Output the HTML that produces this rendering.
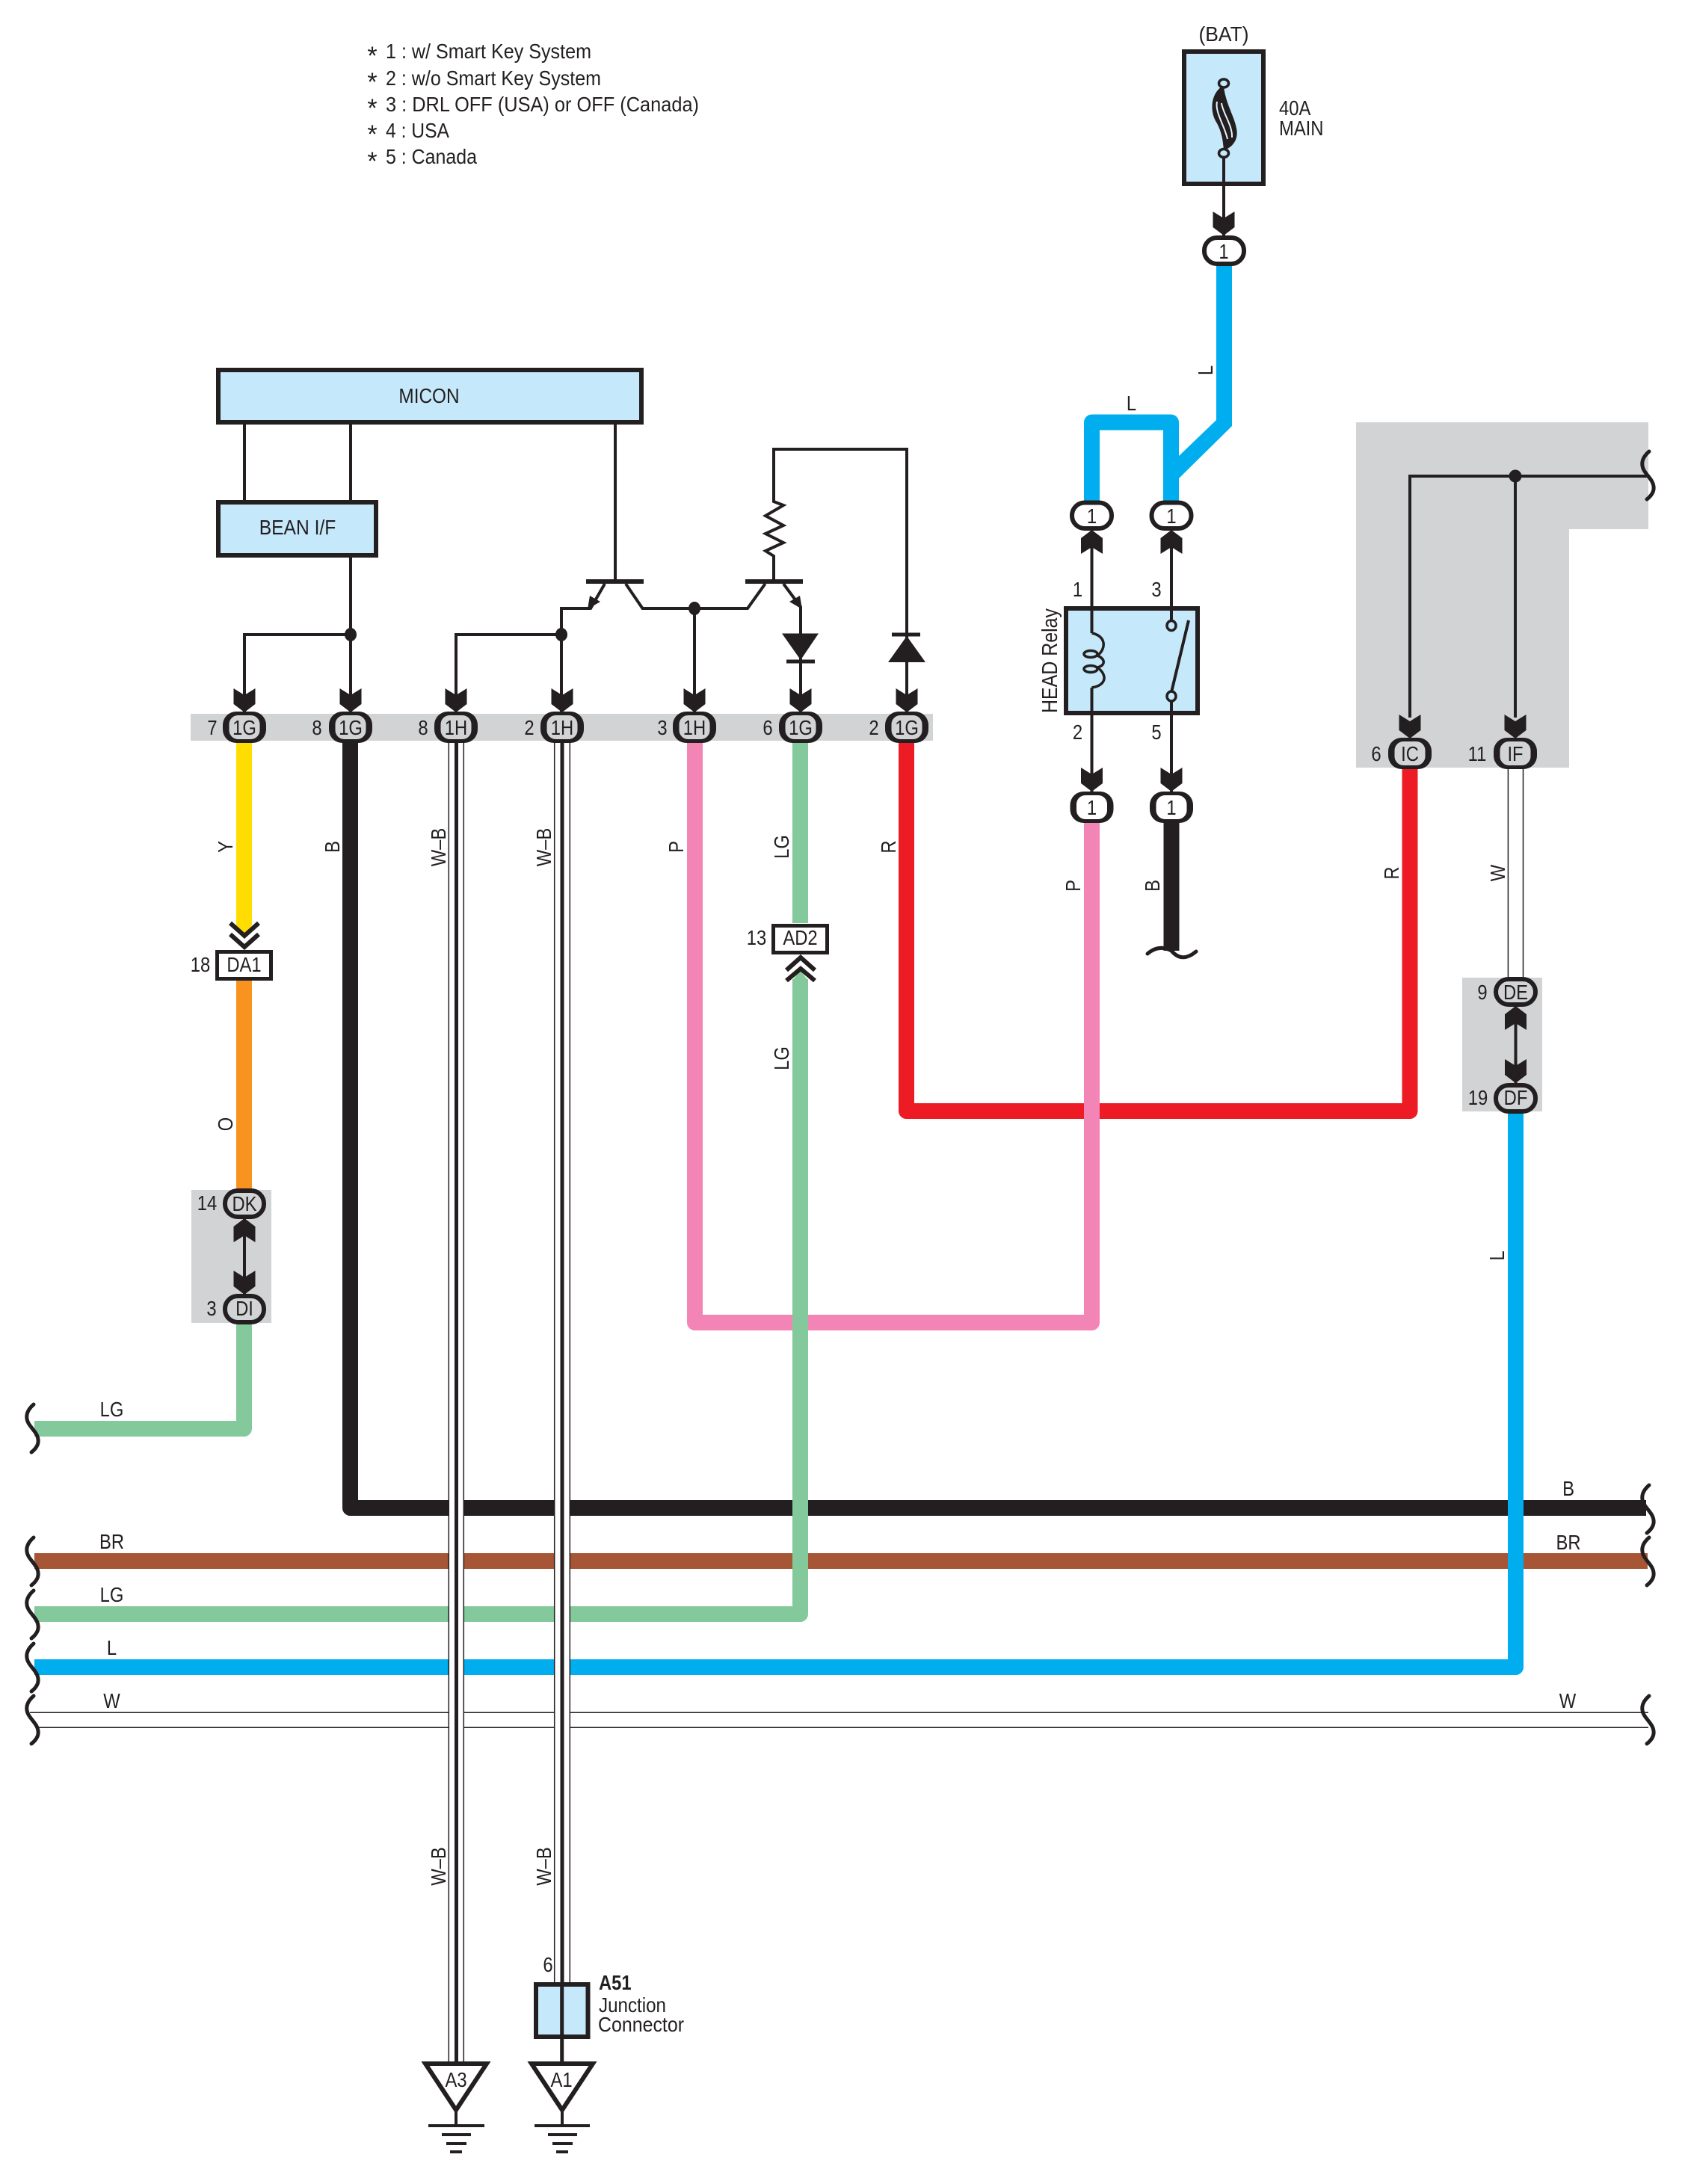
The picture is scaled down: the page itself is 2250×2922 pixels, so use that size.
<!DOCTYPE html>
<html><head><meta charset="utf-8"><title>Headlight relay wiring diagram</title>
<style>
html,body{margin:0;padding:0;background:#fff}
svg{display:block}
text{font-family:"Liberation Sans",sans-serif;font-size:28px;fill:#231f20;text-anchor:middle}
text.s{text-anchor:start}
.w{fill:none;stroke-width:21;stroke-linejoin:round}
.k{fill:none;stroke:#231f20;stroke-width:4;stroke-linejoin:miter}
.t{fill:none;stroke:#231f20;stroke-width:1.5}
.c{stroke:#231f20;stroke-width:6}
.g{fill:#d1d3d4}
.bl{fill:#c5e8fb;stroke:#231f20;stroke-width:6}
.d{fill:#231f20}
.br{fill:none;stroke:#231f20;stroke-width:5;stroke-linecap:round}
</style></head>
<body>
<svg xmlns="http://www.w3.org/2000/svg" width="2250" height="2922" viewBox="0 0 2250 2922">
<defs>
<path id="a" d="M0 0L-14.500 -11V-32L0 -23L14.500 -32V-11Z" fill="#231f20"/>
<path id="bc" class="br" d="M45 2C37 9 35 15 36 21C37 31 50 38 51 49C52 56 47 62 42 66"/>
<g id="ng"><rect x="-29" y="-21" width="58" height="42" rx="18" fill="#231f20"/><rect x="-20.500" y="-16" width="41" height="32" rx="12" fill="#d1d3d4"/></g>
<g id="nw"><rect x="-29" y="-21" width="58" height="42" rx="18" fill="#231f20"/><rect x="-20.500" y="-16" width="41" height="32" rx="12" fill="#fff"/></g>
</defs>
<rect width="2250" height="2922" fill="#fff"/>

<!-- gray zones -->
<rect class="g" x="255" y="955" width="993" height="36"/>
<rect class="g" x="256" y="1592" width="107" height="178"/>
<rect class="g" x="1956" y="1308" width="107" height="179"/>
<polygon class="g" points="1814,565 2205,565 2205,708 2099,708 2099,1027 1814,1027"/>

<!-- legend -->
<g>
<text x="498" y="86" style="font-size:34px">*</text>
<text x="498" y="121" style="font-size:34px">*</text>
<text x="498" y="156" style="font-size:34px">*</text>
<text x="498" y="191" style="font-size:34px">*</text>
<text x="498" y="227" style="font-size:34px">*</text>
<text class="s" x="516" y="78" textLength="275" lengthAdjust="spacingAndGlyphs">1 : w/ Smart Key System</text>
<text class="s" x="516" y="114" textLength="288" lengthAdjust="spacingAndGlyphs">2 : w/o Smart Key System</text>
<text class="s" x="516" y="149" textLength="419" lengthAdjust="spacingAndGlyphs">3 : DRL OFF (USA) or OFF (Canada)</text>
<text class="s" x="516" y="184" textLength="85" lengthAdjust="spacingAndGlyphs">4 : USA</text>
<text class="s" x="516" y="219" textLength="122" lengthAdjust="spacingAndGlyphs">5 : Canada</text>
</g>

<!-- horizontal and main wires -->
<path class="w" stroke="#a65635" d="M46 2088.5H2204"/>
<path class="w" stroke="#231f20" d="M468.5 994V2017.5H2202"/>
<path class="t" d="M40 2291.3H2205M50 2311.3H2205"/>
<path class="w" stroke="#00aeef" d="M46 2230.5H2027.5V1490"/>
<path class="w" stroke="#ed1c24" d="M1212.5 994V1486.5H1886V1029"/>
<path class="w" stroke="#f285b5" d="M929.5 994V1769.5H1460.5V1100"/>
<path class="w" stroke="#84c99c" d="M1070.5 994V1235"/>
<path fill="#84c99c" d="M1060 1312L1070.5 1298L1081 1312Z"/>
<path class="w" stroke="#84c99c" d="M46 2159.5H1070.5V1310"/>
<polygon fill="#ffdd00" points="316,994 337,994 337,1238 326.5,1250 316,1238"/>
<path class="w" stroke="#f7931e" d="M326.5 1312V1590" style="stroke-linejoin:miter"/>
<path class="w" stroke="#84c99c" d="M326.5 1772V1911.5H46"/>
<path class="w" stroke="#231f20" d="M1567 1100V1272"/>
<path class="br" d="M1535 1276Q1550 1263 1567 1272Q1581 1289 1600 1273"/>
<polygon fill="#00aeef" points="1627,356 1648,356 1648,570 1577,640 1577,610 1627,562"/>
<path class="w" stroke="#00aeef" d="M1460.5 670V565H1566.5V670"/>
<path fill="none" stroke="#231f20" stroke-width="1.5" d="M2017.4 1029V1307M2037.5 1029V1307"/>

<!-- double wires -->
<rect x="600" y="994" width="20.5" height="1764" fill="#fff"/>
<rect x="741.5" y="994" width="21" height="1660" fill="#fff"/>
<path class="t" d="M600.3 994V2758M620.3 994V2758M741.7 994V2654M762.3 994V2654"/>
<path fill="none" stroke="#231f20" stroke-width="5" d="M610.5 994V2760M752 994V2654"/>

<!-- MICON / BEAN -->
<rect class="bl" x="292" y="495" width="566" height="70"/>
<rect class="bl" x="292" y="672" width="211" height="71"/>
<text transform="translate(574 539) scale(.87 1)">MICON</text>
<text transform="translate(398 715) scale(.88 1)">BEAN I/F</text>

<!-- thin circuit -->
<path class="k" d="M327 568V669M469 568V669M823 568V778M469 746V953M327 953V849H469"/>
<path class="k" d="M809 781L790 814H751V953M751 849H610V953"/>
<path class="k" d="M837 781L859.5 814H1000L1023.6 781M929 814V953"/>
<path class="k" d="M1035 778V744L1024 737L1048 726L1024 714L1048 703L1024 690L1048 676L1035 671V601H1213V953"/>
<path class="k" d="M1048 781L1071 812V953"/>
<path fill="none" stroke="#231f20" stroke-width="6" d="M784 778H861M997 778H1074"/>
<polygon class="d" points="786,815 789,797 803,805"/>
<polygon class="d" points="1073,815 1070,797 1056,805"/>
<ellipse class="d" cx="469" cy="849" rx="8" ry="9"/>
<ellipse class="d" cx="751" cy="849" rx="8" ry="9"/>
<ellipse class="d" cx="929" cy="814" rx="8" ry="9"/>
<polygon class="d" points="1046,847.5 1095,847.5 1071,883"/>
<path fill="none" stroke="#231f20" stroke-width="5" d="M1052 885H1090M1193 849H1231"/>
<polygon class="d" points="1188,886 1238,886 1213,851"/>

<!-- band arrows -->
<use href="#a" x="327" y="953"/><use href="#a" x="469" y="953"/><use href="#a" x="610" y="953"/>
<use href="#a" x="752" y="953"/><use href="#a" x="929" y="953"/><use href="#a" x="1071" y="953"/><use href="#a" x="1213" y="953"/>

<!-- band connectors -->
<use href="#ng" x="327" y="973"/><use href="#ng" x="469" y="973"/><use href="#ng" x="610" y="973"/>
<use href="#ng" x="752" y="973"/><use href="#ng" x="929" y="973"/><use href="#ng" x="1071" y="973"/><use href="#ng" x="1213" y="973"/>
<text transform="translate(327 983) scale(.85 1)">1G</text>
<text transform="translate(469 983) scale(.85 1)">1G</text>
<text transform="translate(610 983) scale(.85 1)">1H</text>
<text transform="translate(752 983) scale(.85 1)">1H</text>
<text transform="translate(929 983) scale(.85 1)">1H</text>
<text transform="translate(1071 983) scale(.85 1)">1G</text>
<text transform="translate(1213 983) scale(.85 1)">1G</text>
<text transform="translate(284 983) scale(.85 1)">7</text>
<text transform="translate(424 983) scale(.85 1)">8</text>
<text transform="translate(566 983) scale(.85 1)">8</text>
<text transform="translate(708 983) scale(.85 1)">2</text>
<text transform="translate(886 983) scale(.85 1)">3</text>
<text transform="translate(1027 983) scale(.85 1)">6</text>
<text transform="translate(1169 983) scale(.85 1)">2</text>

<!-- DA1 -->
<path fill="none" stroke="#231f20" stroke-width="6" d="M308 1235L327 1252L346 1235M308 1250L327 1267L346 1250"/>
<rect x="290.500" y="1273.500" width="72" height="36" fill="#fff" stroke="#231f20" stroke-width="5"/>
<text transform="translate(326.500 1300) scale(.85 1)">DA1</text>
<text transform="translate(268 1300) scale(.85 1)">18</text>

<!-- DK / DI -->
<path class="k" d="M327 1630V1732"/>
<use href="#a" transform="translate(327 1630) scale(1 -1)"/>
<use href="#a" x="327" y="1732"/>
<rect class="c g" x="301" y="1593" width="52" height="35" rx="17"/>
<rect class="c g" x="301" y="1734" width="52" height="35" rx="17"/>
<text transform="translate(327 1620) scale(.85 1)">DK</text>
<text transform="translate(327 1760) scale(.85 1)">DI</text>
<text transform="translate(277 1619) scale(.85 1)">14</text>
<text transform="translate(283 1760) scale(.85 1)">3</text>

<!-- AD2 -->
<rect x="1034.500" y="1238.500" width="72" height="36" fill="#fff" stroke="#231f20" stroke-width="5"/>
<text transform="translate(1070.500 1264) scale(.85 1)">AD2</text>
<text transform="translate(1012 1264) scale(.85 1)">13</text>
<path fill="none" stroke="#231f20" stroke-width="6" d="M1052 1298L1071 1281L1090 1298M1052 1312L1071 1296L1090 1312"/>

<!-- fuse -->
<rect class="bl" x="1584" y="69" width="106" height="177"/>
<path class="d" d="M1634 116C1619 127 1618 150 1628 165C1635 178 1636 190 1637 201C1650 197 1657 185 1654 172C1651 155 1640 140 1637 116Z"/>
<path fill="none" stroke="#e6f4fc" stroke-width="2" d="M1628 136C1625 150 1638 168 1642 186"/>
<path fill="none" stroke="#e6f4fc" stroke-width="2" d="M1634 138C1636 152 1649 168 1648 184"/>
<path class="k" d="M1637 205V315"/>
<ellipse cx="1637" cy="111.500" rx="6.500" ry="5.500" fill="#c5e8fb" stroke="#231f20" stroke-width="3.500"/>
<ellipse cx="1637" cy="205" rx="6.500" ry="5.500" fill="#c5e8fb" stroke="#231f20" stroke-width="3.500"/>
<use href="#a" x="1637" y="315"/>
<rect class="c" fill="#fff" x="1611" y="318" width="53" height="35" rx="17"/>
<text transform="translate(1637 346) scale(.85 1)">1</text>
<text x="1637" y="55" textLength="67" lengthAdjust="spacingAndGlyphs">(BAT)</text>
<text class="s" transform="translate(1711 154) scale(.85 1)">40A</text>
<text class="s" transform="translate(1711 181) scale(.85 1)">MAIN</text>
<text transform="translate(1513.500 549) scale(.85 1)">L</text>

<!-- relay -->
<rect class="bl" x="1426" y="814" width="176" height="140"/>
<path class="k" d="M1460.500 712V847M1460.500 920V1060M1567 712V831M1567 938V1060"/>
<path fill="none" stroke="#231f20" stroke-width="3.500" d="M1460.500 847C1480 851 1480 868 1468 877C1479 882 1479 890 1468 893C1482 903 1480 917 1460.500 920"/>
<ellipse cx="1459" cy="875" rx="9" ry="4.500" fill="none" stroke="#231f20" stroke-width="3.500"/>
<ellipse cx="1459" cy="895" rx="9" ry="4.500" fill="none" stroke="#231f20" stroke-width="3.500"/>
<path fill="none" stroke="#231f20" stroke-width="4" d="M1567 926L1590 830"/>
<ellipse cx="1567" cy="837" rx="6" ry="6.500" fill="#c5e8fb" stroke="#231f20" stroke-width="3.500"/>
<ellipse cx="1567" cy="931.500" rx="6" ry="6.500" fill="#c5e8fb" stroke="#231f20" stroke-width="3.500"/>
<use href="#a" transform="translate(1460.500 709) scale(1 -1)"/>
<use href="#a" transform="translate(1567 709) scale(1 -1)"/>
<use href="#a" x="1460.500" y="1059"/>
<use href="#a" x="1567" y="1059"/>
<rect class="c" fill="#fff" x="1434" y="672.500" width="53" height="34.500" rx="17"/>
<rect class="c" fill="#fff" x="1540.500" y="672.500" width="53" height="34.500" rx="17"/>
<use href="#nw" x="1460.500" y="1080"/>
<use href="#nw" x="1567" y="1080"/>
<text transform="translate(1460.500 700) scale(.85 1)">1</text>
<text transform="translate(1567 700) scale(.85 1)">1</text>
<text transform="translate(1460.500 1090) scale(.85 1)">1</text>
<text transform="translate(1567 1090) scale(.85 1)">1</text>
<text transform="translate(1441.500 798) scale(.85 1)">1</text>
<text transform="translate(1547 798) scale(.85 1)">3</text>
<text transform="translate(1441.500 989) scale(.85 1)">2</text>
<text transform="translate(1547 989) scale(.85 1)">5</text>
<text transform="translate(1414 884) rotate(-90) scale(.86 1)" style="font-size:29px">HEAD Relay</text>

<!-- gray right block -->
<path class="k" d="M2205 637H1886V960M2027 637V960"/>
<circle class="d" cx="2027" cy="637" r="8.500"/>
<use href="#bc" transform="translate(2161 602)"/>
<use href="#a" x="1886" y="988"/>
<use href="#a" x="2027" y="988"/>
<use href="#ng" x="1886" y="1008"/>
<use href="#ng" x="2027" y="1008"/>
<text transform="translate(1886 1018) scale(.85 1)">IC</text>
<text transform="translate(2027 1018) scale(.85 1)">IF</text>
<text transform="translate(1841 1018) scale(.85 1)">6</text>
<text transform="translate(1976 1018) scale(.85 1)">11</text>

<!-- DE / DF -->
<path class="k" d="M2027.500 1346V1449"/>
<use href="#a" transform="translate(2027.500 1346) scale(1 -1)"/>
<use href="#a" x="2027.500" y="1449"/>
<rect class="c g" x="2001" y="1310" width="53" height="34" rx="17"/>
<rect class="c g" x="2001" y="1452" width="53" height="35" rx="17"/>
<text transform="translate(2027.500 1337) scale(.85 1)">DE</text>
<text transform="translate(2027.500 1478) scale(.85 1)">DF</text>
<text transform="translate(1983 1337) scale(.85 1)">9</text>
<text transform="translate(1977 1478) scale(.85 1)">19</text>

<!-- braces -->
<use href="#bc" transform="translate(0 1877)"/>
<use href="#bc" transform="translate(0 2055)"/>
<use href="#bc" transform="translate(0 2126)"/>
<use href="#bc" transform="translate(0 2197)"/>
<use href="#bc" transform="translate(0 2267)"/>
<use href="#bc" transform="translate(2161 1985)"/>
<use href="#bc" transform="translate(2161 2055)"/>
<use href="#bc" transform="translate(2161 2267)"/>

<!-- horizontal labels -->
<text transform="translate(149.500 1895) scale(.85 1)">LG</text>
<text transform="translate(149.500 2072) scale(.85 1)">BR</text>
<text transform="translate(149.500 2143) scale(.85 1)">LG</text>
<text transform="translate(149.500 2214) scale(.85 1)">L</text>
<text transform="translate(149.500 2285) scale(.85 1)">W</text>
<text transform="translate(2098 2001) scale(.85 1)">B</text>
<text transform="translate(2098 2073) scale(.85 1)">BR</text>
<text transform="translate(2097 2285) scale(.85 1)">W</text>

<!-- rotated labels -->
<text transform="translate(311 1133) rotate(-90) scale(.85 1)">Y</text>
<text transform="translate(454 1133) rotate(-90) scale(.85 1)">B</text>
<text transform="translate(596 1133.500) rotate(-90) scale(.85 1)">W–B</text>
<text transform="translate(737 1133.500) rotate(-90) scale(.85 1)">W–B</text>
<text transform="translate(914 1133) rotate(-90) scale(.85 1)">P</text>
<text transform="translate(1055 1133) rotate(-90) scale(.85 1)">LG</text>
<text transform="translate(1055 1416) rotate(-90) scale(.85 1)">LG</text>
<text transform="translate(1198 1133) rotate(-90) scale(.85 1)">R</text>
<text transform="translate(1445 1185) rotate(-90) scale(.85 1)">P</text>
<text transform="translate(1551 1185) rotate(-90) scale(.85 1)">B</text>
<text transform="translate(1871 1168) rotate(-90) scale(.85 1)">R</text>
<text transform="translate(2013 1168) rotate(-90) scale(.85 1)">W</text>
<text transform="translate(1622 495.500) rotate(-90) scale(.85 1)">L</text>
<text transform="translate(2012 1680) rotate(-90) scale(.85 1)">L</text>
<text transform="translate(311 1504) rotate(-90) scale(.85 1)">O</text>
<text transform="translate(596 2497) rotate(-90) scale(.85 1)">W–B</text>
<text transform="translate(737 2497) rotate(-90) scale(.85 1)">W–B</text>

<!-- junction connector -->
<rect class="bl" x="717" y="2655" width="69.500" height="70" stroke-width="5"/>
<path class="k" d="M751.700 2652V2758" style="stroke-width:5"/>
<text transform="translate(733 2638) scale(.85 1)">6</text>
<text class="s" transform="translate(801 2662) scale(.85 1)" style="font-weight:bold">A51</text>
<text class="s" x="801" y="2692" textLength="90" lengthAdjust="spacingAndGlyphs">Junction</text>
<text class="s" x="800" y="2718" textLength="115" lengthAdjust="spacingAndGlyphs">Connector</text>

<!-- grounds -->
<polygon points="569,2761 651,2761 610,2823" fill="#fff" stroke="#231f20" stroke-width="6"/>
<polygon points="711,2761 793,2761 752,2823" fill="#fff" stroke="#231f20" stroke-width="6"/>
<path fill="none" stroke="#231f20" stroke-width="4" d="M610 2826V2844M752 2826V2844M573 2844H648M715 2844H789M591 2856H630M733 2856H772M597 2868H624M739 2868H766M602 2879H618M744 2879H760"/>
<text transform="translate(610 2792) scale(.85 1)">A3</text>
<text transform="translate(751 2792) scale(.85 1)">A1</text>
</svg>
</body></html>
